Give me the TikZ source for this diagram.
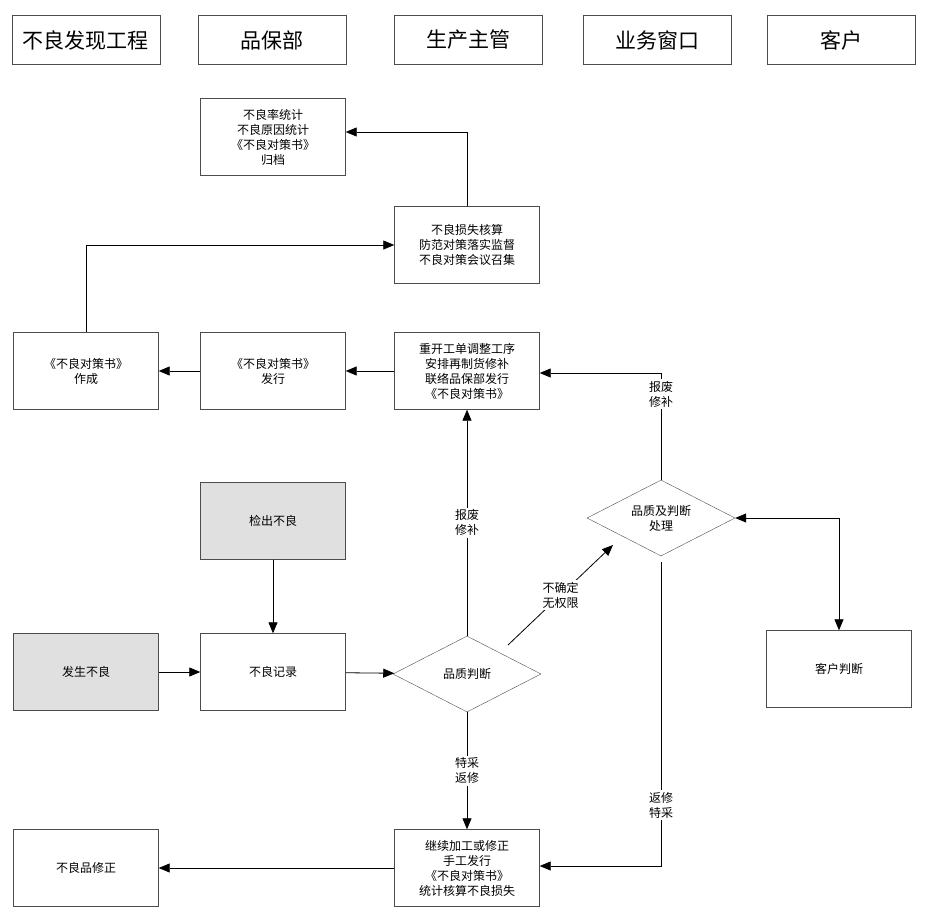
\documentclass[tikz,border=0pt]{standalone}
\usepackage{fontspec}
\setmainfont{Noto Sans CJK SC}
\usetikzlibrary{positioning, shapes.geometric, arrows.meta}
\tikzstyle{arrow} = [thick,-{Triangle[length=11pt,width=9pt]}]
\tikzstyle{label} = [fill=white, inner sep=2pt, align=center, font=\fontsize{12}{15}\selectfont]

\begin{document}
\begin{tikzpicture}[x=1pt,y=-1pt,
headnode/.style={rectangle, draw=black!70, minimum width=148pt, minimum height=49pt, font=\fontsize{21}{24}\selectfont},
squarednode/.style={rectangle, draw=black!70, minimum width=145pt, minimum height=77pt, align=center, font=\fontsize{12}{15}\selectfont},
graynode/.style={squarednode, fill=black!12},
diamondnode/.style={diamond, draw=black!70, aspect=1.95, minimum width=148pt, minimum height=76pt, inner sep=0pt, align=center, font=\fontsize{12}{15}\selectfont}
]
\useasboundingbox (0,0) rectangle (926,923);
% lanes
\node[headnode] (H1) at (86,40) {不良发现工程};
\node[headnode] (H2) at (272,40) {品保部};
\node[headnode] (H3) at (468,40) {生产主管};
\node[headnode] (H4) at (657,40) {业务窗口};
\node[headnode] (H5) at (841,40) {客户};
% nodes
\node[squarednode] (Stat) at (273,137) {不良率统计\\不良原因统计\\《不良对策书》\\归档};
\node[squarednode] (Loss) at (467,245) {不良损失核算\\防范对策落实监督\\不良对策会议召集};
\node[squarednode] (Make) at (86,371) {《不良对策书》\\作成};
\node[squarednode] (Issue) at (273,371) {《不良对策书》\\发行};
\node[squarednode] (Reopen) at (467,371) {重开工单调整工序\\安排再制货修补\\联络品保部发行\\《不良对策书》};
\node[graynode] (Detect) at (273,521) {检出不良};
\node[graynode] (Occur) at (86,672) {发生不良};
\node[squarednode] (Record) at (273,672) {不良记录};
\node[diamondnode] (Judge) at (467,674) {品质判断};
\node[diamondnode] (Judge2) at (661,518) {品质及判断\\处理};
\node[squarednode] (Cust) at (839,669) {客户判断};
\node[squarednode] (Cont) at (467,868) {继续加工或修正\\手工发行\\《不良对策书》\\统计核算不良损失};
\node[squarednode] (Fix) at (86,868) {不良品修正};
\coordinate (c1) at (467,132);
\coordinate (c3) at (661,373);
\coordinate (c5) at (661,866);
\coordinate (d1) at (508,645);
\coordinate (d2) at (613,545);
\coordinate (d3) at (661,562);
% connectors
\draw[arrow] (Loss.north) |- (Stat.east |- c1);
\draw[arrow] (Make.north) |- (Loss.west);
\draw[arrow] (Issue) -- (Make);
\draw[arrow] (Reopen) -- (Issue);
\draw[arrow] (Judge2.north) |- (Reopen.east |- c3) node[label, pos=0.4] {报废\\修补};
\draw[arrow] (Judge.north) -- (Reopen.south) node[label, midway] {报废\\修补};
\draw[arrow] (d1) -- (d2) node[label, midway] {不确定\\无权限};
\draw[arrow, {Triangle[length=11pt,width=9pt]}-{Triangle[length=11pt,width=9pt]}] (Judge2.east) -| (Cust.north);
\draw[arrow] (Detect) -- (Record);
\draw[arrow] (Occur) -- (Record);
\draw[arrow] (Record) -- (Judge);
\draw[arrow] (Judge.south) -- (Cont.north) node[label, midway] {特采\\返修};
\draw[arrow] (d3) |- (Cont.east |- c5) node[label, pos=0.4] {返修\\特采};
\draw[arrow] (Cont) -- (Fix);
\end{tikzpicture}
\end{document}
